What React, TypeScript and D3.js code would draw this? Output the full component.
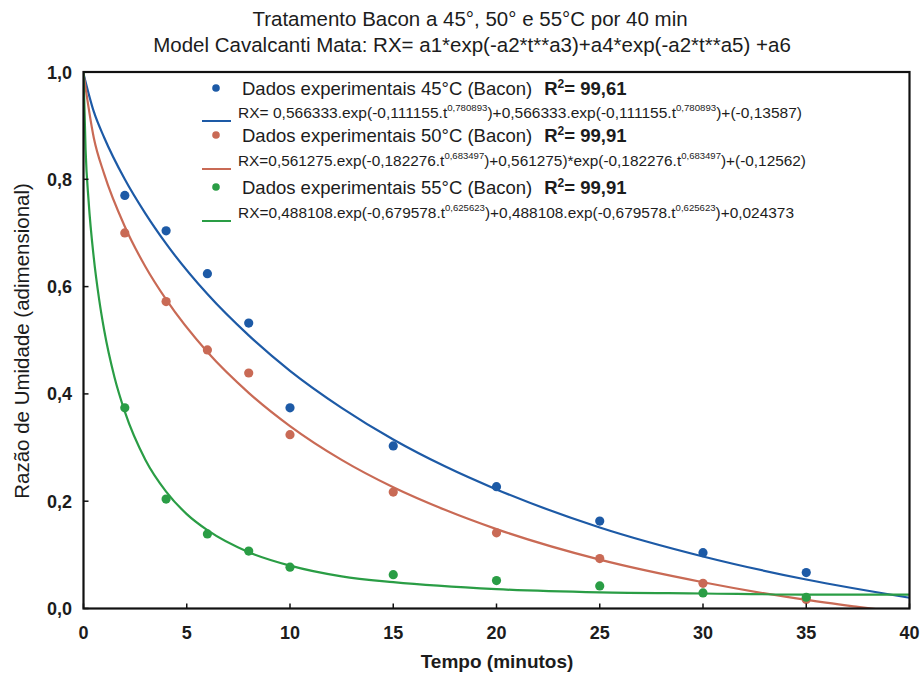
import React from "react";
import * as d3 from "d3";

const W = 921;
const H = 683;

// Experimental data
const tData = [2, 4, 6, 8, 10, 15, 20, 25, 30, 35];
const dots45 = [0.770, 0.704, 0.624, 0.532, 0.374, 0.303, 0.227, 0.163, 0.104, 0.067];
const dots50 = [0.700, 0.572, 0.482, 0.439, 0.324, 0.217, 0.141, 0.093, 0.047, 0.017];
const dots55 = [0.374, 0.204, 0.139, 0.107, 0.077, 0.063, 0.052, 0.042, 0.029, 0.021];

// Fitted curves
const tFit45 = [0, 0.5, 1, 2, 3, 4, 6, 8, 10, 12.5, 15, 17.5, 20, 25, 30, 35, 40];
const fit45 = [0.997, 0.926, 0.878, 0.800, 0.736, 0.680, 0.586, 0.509, 0.443, 0.374, 0.315, 0.265, 0.222, 0.151, 0.097, 0.054, 0.020];
const tFit50 = [0, 0.5, 1, 2, 3, 4, 6, 8, 10, 12.5, 15, 17.5, 20, 25, 30, 35, 37.5, 40];
const fit50 = [0.997, 0.877, 0.810, 0.712, 0.637, 0.576, 0.478, 0.402, 0.340, 0.277, 0.226, 0.184, 0.148, 0.091, 0.049, 0.016, 0.003, -0.009];
const tFit55 = [0, 0.1, 0.25, 0.5, 0.75, 1, 1.5, 2, 3, 4, 5, 6, 8, 10, 12.5, 15, 20, 25, 30, 35, 40];
const fit55 = [1.0, 0.856, 0.758, 0.653, 0.578, 0.519, 0.431, 0.367, 0.277, 0.218, 0.176, 0.146, 0.105, 0.080, 0.060, 0.049, 0.036, 0.030, 0.028, 0.026, 0.026];

const xTicks = [0, 5, 10, 15, 20, 25, 30, 35, 40];
const yTicks = [0, 0.2, 0.4, 0.6, 0.8, 1.0];

const COLORS = { c45: "#1d5aa6", c50: "#c96a55", c55: "#2a9d45" };

const FONT = "'Liberation Sans', Arial, sans-serif";
const INK = "#1c1c1c";

export default function App() {
  const left = 83.5, right = 909.5, top = 72, bottom = 608.5;
  const x = d3.scaleLinear().domain([0, 40]).range([left, right]);
  const y = d3.scaleLinear().domain([0, 1]).range([bottom, top]);

  const line = (ts: number[], vs: number[]) =>
    d3
      .line<number>()
      .x((_, i) => x(ts[i]))
      .y((v) => y(v))
      .curve(d3.curveMonotoneX)(vs) || "";

  const series = [
    { t: tFit45, v: fit45, d: dots45, c: COLORS.c45 },
    { t: tFit50, v: fit50, d: dots50, c: COLORS.c50 },
    { t: tFit55, v: fit55, d: dots55, c: COLORS.c55 },
  ];

  const fmt = (v: number) => v.toFixed(1).replace(".", ",");

  const legendRows = [
    { kind: "dot", y: 88, c: COLORS.c45, label: "Dados experimentais 45°C (Bacon)", r2: "99,61" },
    { kind: "line", y: 112, c: COLORS.c45, parts: ["RX= 0,566333.exp(-0,111155.t", "0,780893", ")+0,566333.exp(-0,111155.t", "0,780893", ")+(-0,13587)"], len: 564 },
    { kind: "dot", y: 135, c: COLORS.c50, label: "Dados experimentais 50°C (Bacon)", r2: "99,91" },
    { kind: "line", y: 160, c: COLORS.c50, parts: ["RX=0,561275.exp(-0,182276.t", "0,683497", ")+0,561275)*exp(-0,182276.t", "0,683497", ")+(-0,12562)"], len: 568 },
    { kind: "dot", y: 187, c: COLORS.c55, label: "Dados experimentais 55°C (Bacon)", r2: "99,91" },
    { kind: "line", y: 212, c: COLORS.c55, parts: ["RX=0,488108.exp(-0,679578.t", "0,625623", ")+0,488108.exp(-0,679578.t", "0,625623", ")+0,024373"], len: 556 },
  ];

  return (
    <svg
      width={W}
      height={H}
      style={{ position: "fixed", left: 0, top: 0, background: "#fff" }}
      fontFamily={FONT}
    >
      <defs>
        <clipPath id="plotClip">
          <rect x={left} y={top} width={right - left} height={bottom - top} />
        </clipPath>
      </defs>
      <rect x={0} y={0} width={W} height={H} fill="#fff" />

      {/* Title */}
      <text x={470} y={26} textAnchor="middle" fontSize={20.5} fill={INK}>
        Tratamento Bacon a 45°, 50° e 55°C por 40 min
      </text>
      <text x={472} y={52} textAnchor="middle" fontSize={20.5} fill={INK}>
        Model Cavalcanti Mata: RX= a1*exp(-a2*t**a3)+a4*exp(-a2*t**a5) +a6
      </text>

      {/* Curves */}
      <g clipPath="url(#plotClip)">
        {series.map((s, i) => (
          <path key={i} d={line(s.t, s.v)} fill="none" stroke={s.c} strokeWidth={2.2} />
        ))}
      </g>

      {/* Dots */}
      {series.map((s, i) => (
        <g key={"d" + i}>
          {s.d.map((v, j) => (
            <circle key={j} cx={x(tData[j])} cy={y(v)} r={4.6} fill={s.c} />
          ))}
        </g>
      ))}

      {/* Frame */}
      <rect x={left} y={top} width={right - left} height={bottom - top} fill="none" stroke="#111" strokeWidth={2.2} />

      {/* Ticks */}
      {xTicks.map((t) => (
        <g key={"xt" + t}>
          <line x1={x(t)} x2={x(t)} y1={bottom} y2={bottom - 5} stroke="#111" strokeWidth={1.5} />
          <text x={x(t)} y={639} textAnchor="middle" fontSize={18} fontWeight="bold" fill={INK}>
            {t}
          </text>
        </g>
      ))}
      {yTicks.map((v) => (
        <g key={"yt" + v}>
          <line x1={left} x2={left + 5} y1={y(v)} y2={y(v)} stroke="#111" strokeWidth={1.5} />
          <text x={72} y={y(v) + 6.5} textAnchor="end" fontSize={18} fontWeight="bold" fill={INK}>
            {fmt(v)}
          </text>
        </g>
      ))}

      {/* Axis titles */}
      <text x={497} y={668} textAnchor="middle" fontSize={19} fontWeight="bold" fill={INK}>
        Tempo (minutos)
      </text>
      <text
        transform={`translate(29,341) rotate(-90)`}
        textAnchor="middle"
        fontSize={20.5}
        fill={INK}
      >
        Razão de Umidade (adimensional)
      </text>

      {/* Legend */}
      {legendRows.map((r, i) =>
        r.kind === "dot" ? (
          <g key={"l" + i}>
            <circle cx={216} cy={r.y} r={3.8} fill={r.c} />
            <text x={242} y={r.y + 6.5} fontSize={18.5} fill={INK}>
              {r.label}
              <tspan dx={12} fontWeight="bold">R</tspan>
              <tspan fontWeight="bold" fontSize={12} dy={-7}>2</tspan>
              <tspan fontWeight="bold" dy={7}>= {r.r2}</tspan>
            </text>
          </g>
        ) : (
          <g key={"l" + i}>
            <line x1={202} x2={231} y1={r.y + 9} y2={r.y + 9} stroke={r.c} strokeWidth={2} />
            <text
              x={238}
              y={r.y + 5.5}
              fontSize={14.5}
              fill={INK}
              textLength={r.len}
              lengthAdjust="spacingAndGlyphs"
            >
              <tspan>{r.parts![0]}</tspan>
              <tspan fontSize={9} dy={-7}>{r.parts![1]}</tspan>
              <tspan dy={7}>{r.parts![2]}</tspan>
              <tspan fontSize={9} dy={-7}>{r.parts![3]}</tspan>
              <tspan dy={7}>{r.parts![4]}</tspan>
            </text>
          </g>
        )
      )}
    </svg>
  );
}
